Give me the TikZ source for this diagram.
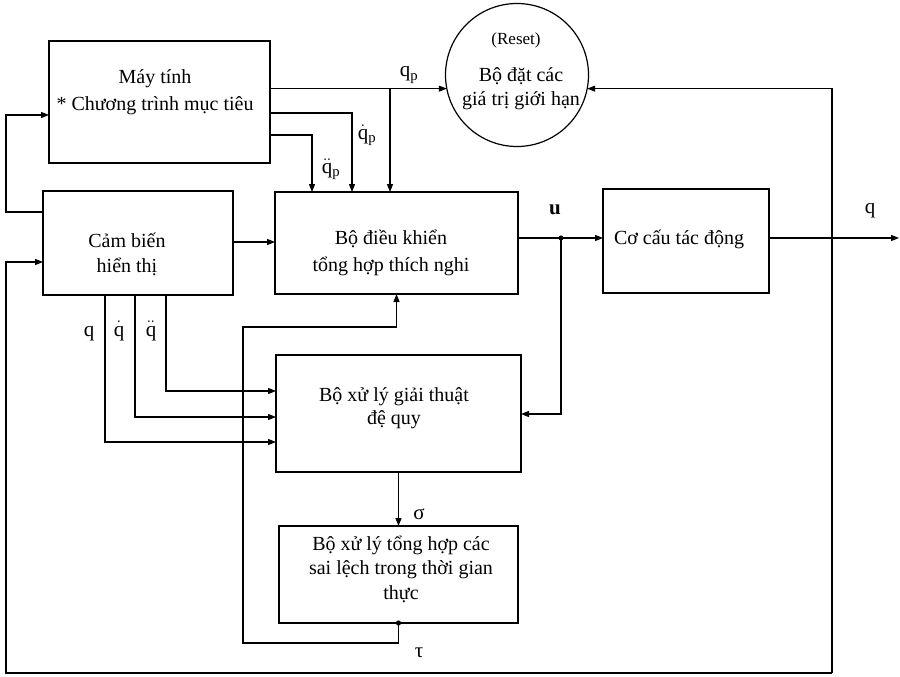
\documentclass[tikz,border=0pt]{standalone}
\usepackage{fontspec}
\setmainfont{Liberation Serif}
\usetikzlibrary{arrows.meta}
\begin{document}
\begin{tikzpicture}[x=1pt,y=-1pt,
  box/.style={draw, line width=1.2pt, inner sep=0pt, outer sep=0pt},
  txt/.style={inner sep=0pt, font=\fontsize{20}{25}\selectfont, align=center},
  lbl/.style={inner sep=0pt, font=\fontsize{21}{23}\selectfont},
  wire/.style={line width=1.1pt},
  arr/.style={wire, -{Triangle[length=8pt,width=6pt]}},
  jdot/.style={fill, draw=none}]
\useasboundingbox (0,0) rectangle (900,677);
\fill[white] (0,0) rectangle (900,677);

% blocks
\node[box, minimum width=221pt, minimum height=122pt] (may) at (159.5,102) {};
\node[box, minimum width=190pt, minimum height=104pt] (cam) at (138,243) {};
\node[box, minimum width=243pt, minimum height=102pt] (dk) at (396.5,243) {};
\node[box, circle, minimum size=143pt] (reset) at (517,75) {};
\node[box, minimum width=166pt, minimum height=104pt] (cc) at (686,241) {};
\node[box, minimum width=245pt, minimum height=117pt] (gt) at (398.5,413.5) {};
\node[box, minimum width=239pt, minimum height=97pt] (th) at (398.5,574.5) {};

% texts
\node[txt, font=\fontsize{20}{27}\selectfont] (maytxt) at (155,92) {Máy tính\\* Chương trình mục tiêu};
\node[txt] (camtxt) at (127,254) {Cảm biến\\hiển thị};
\node[txt, font=\fontsize{20}{27}\selectfont] (dktxt) at (391,253) {Bộ điều khiển\\tổng hợp thích nghi};
\node[txt] (cctxt) at (679,239) {Cơ cấu tác động};
\node[txt, font=\fontsize{20}{23}\selectfont] (gttxt) at (394,408) {Bộ xử lý giải thuật\\đệ quy};
\node[txt, font=\fontsize{20}{24.5}\selectfont] (thtxt) at (401,569) {Bộ xử lý tổng hợp các\\sai lệch trong thời gian\\thực};
\node[txt, font=\fontsize{17}{20}\selectfont] (rstxt) at (516,40) {(Reset)};
\node[txt, font=\fontsize{20}{24}\selectfont] (rstxt2) at (521,89) {Bộ đặt các\\giá trị giới hạn};

% waypoints
\coordinate (a2) at (352,113);
\coordinate (a3) at (312,135);
\coordinate (j1) at (390,89);
\coordinate (a4) at (6,212);
\coordinate (a4b) at (6,115);
\coordinate (a5) at (0,242);
\coordinate (udot) at (561,238);
\coordinate (u2) at (561,414);
\coordinate (qo) at (899,238);
\coordinate (o1) at (832,238);
\coordinate (o3) at (832,673);
\coordinate (o4) at (6,673);
\coordinate (o5) at (6,262);
\coordinate (b1) at (105,442);
\coordinate (b2) at (135,417);
\coordinate (b3) at (166,391);
\coordinate (t1) at (243,643);
\coordinate (t2) at (243,327);

% connectors from computer
\draw[arr] (may.east |- reset.191) -- (reset.191);
\draw[arr] (j1) -- (j1 |- dk.north);
\draw[arr] (may.east |- a2) -| (a2 |- dk.north);
\draw[arr] (may.east |- a3) -| (a3 |- dk.north);

% feedback sensor -> computer
\draw[arr] (cam.west |- a4) -- (a4) -- (a4b) -- (may.west |- a4b);
% sensor -> controller
\draw[arr] (cam.east |- a5) -- (dk.west |- a5);
% u
\draw[arr] (dk.east |- udot) -- (cc.west |- udot);
\draw[arr] (udot) -- (u2) -- (gt.east |- u2);
\fill[jdot] (udot) circle (2.6pt);
% output q
\draw[arr] (cc.east |- qo) -- (qo);
\draw[arr] (o3) -- (o1 |- reset.349) -- (reset.349);
\draw[arr] (o3) -- (o4) -- (o5) -- (cam.west |- o5);
% sensor outputs to recursive processor
\draw[arr] (b1 |- cam.south) -- (b1) -- (gt.west |- b1);
\draw[arr] (b2 |- cam.south) -- (b2) -- (gt.west |- b2);
\draw[arr] (b3 |- cam.south) -- (b3) -- (gt.west |- b3);
% sigma
\draw[arr] (gt.south) -- (th.north);
% tau
\draw[arr] (th.south) |- (t1) -- (t2) -| (dk.south);
\fill[jdot] (th.south) circle (2.6pt);

% labels
\node[lbl] (lqp) at (409,75) {$\mathrm{q}_{\mathrm{p}}$};
\node[lbl] (lqpd) at (367,135) {$\dot{\mathrm{q}}_{\mathrm{p}}$};
\node[lbl] (lqpdd) at (331,169) {$\ddot{\mathrm{q}}_{\mathrm{p}}$};
\node[lbl, font=\fontsize{21}{23}\selectfont\bfseries] (lu) at (555,210) {u};
\node[lbl] (lq) at (870,211) {q};
\node[lbl] (lq1) at (89,334) {q};
\node[lbl] (lq2) at (119,331) {$\dot{\mathrm{q}}$};
\node[lbl] (lq3) at (151,331) {$\ddot{\mathrm{q}}$};
\node[lbl] (lsig) at (419,514) {σ};
\node[lbl] (ltau) at (419,653) {τ};
\end{tikzpicture}
\end{document}
